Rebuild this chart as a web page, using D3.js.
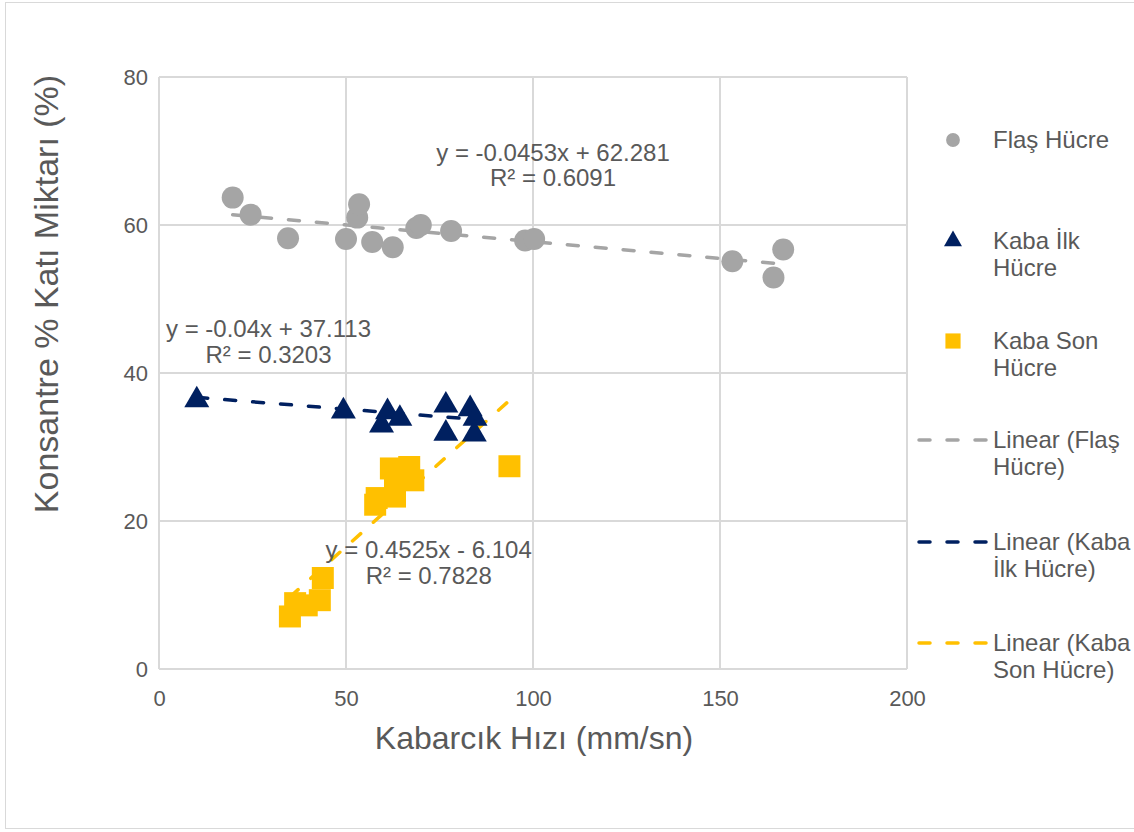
<!DOCTYPE html>
<html>
<head>
<meta charset="utf-8">
<script src="https://cdn.jsdelivr.net/npm/d3@7"></script>
<style>
  body { margin: 0; background: #fff; }
  text { font-family: "Liberation Sans", Arial, sans-serif; fill: #595959; }
</style>
</head>
<body>
<svg class="chart"></svg>
<script>
// Flaş Hücre (gray circles)
var flasX = [19.7, 24.5, 34.5, 50.0, 53.0, 53.5, 57.0, 62.5, 68.8, 70.0, 78.1, 97.9, 100.3, 153.3, 164.3, 166.9];
var flasY = [63.7, 61.4, 58.2, 58.1, 61.0, 62.8, 57.7, 57.0, 59.6, 60.0, 59.2, 57.9, 58.1, 55.1, 52.9, 56.7];
// Kaba İlk Hücre (navy triangles)
var ilkX = [10.1, 49.3, 59.5, 61.1, 64.4, 76.7, 76.7, 83.2, 84.5, 84.3];
var ilkY = [36.6, 35.1, 33.2, 35.0, 34.1, 35.9, 32.1, 35.4, 34.1, 32.0];
// Kaba Son Hücre (yellow squares)
var sonX = [35.0, 36.4, 39.5, 43.0, 43.8, 57.8, 58.2, 63.1, 62.0, 63.1, 66.9, 68.0, 93.7];
var sonY = [7.1, 8.9, 8.6, 9.3, 12.3, 22.2, 23.1, 23.3, 27.1, 25.5, 27.3, 25.5, 27.4];

var seriesNames = ["Flaş Hücre", "Kaba İlk Hücre", "Kaba Son Hücre"];
var trendSlope = [-0.0453, -0.04, 0.4525];
var trendIntercept = [62.281, 37.113, -6.104];
var eqLabels = [
  ["y = -0.0453x + 62.281", "R² = 0.6091"],
  ["y = -0.04x + 37.113", "R² = 0.3203"],
  ["y = 0.4525x - 6.104", "R² = 0.7828"]
];
var xTicks = [0, 50, 100, 150, 200];
var yTicks = [0, 20, 40, 60, 80];

var colors = ["#A5A5A5", "#002060", "#FFC000"];

var W = 1134, H = 832;
var plot = {left: 159, top: 77, right: 907, bottom: 669};

var svg = d3.select(".chart").attr("width", W).attr("height", H);

// outer chart border
svg.append("rect")
  .attr("x", 5.5).attr("y", 2.5).attr("width", 1140).attr("height", 826)
  .attr("fill", "#fff").attr("stroke", "#d9d9d9").attr("stroke-width", 1);

var x = d3.scaleLinear().domain([0, 200]).range([plot.left, plot.right]);
var y = d3.scaleLinear().domain([0, 80]).range([plot.bottom, plot.top]);

// gridlines
var grid = svg.append("g");
grid.selectAll(".gx").data(xTicks).enter().append("line")
  .attr("x1", d => x(d)).attr("x2", d => x(d))
  .attr("y1", plot.top).attr("y2", plot.bottom)
  .attr("stroke", "#d9d9d9").attr("stroke-width", 2);
grid.selectAll(".gy").data(yTicks).enter().append("line")
  .attr("x1", plot.left).attr("x2", plot.right)
  .attr("y1", d => y(d)).attr("y2", d => y(d))
  .attr("stroke", "#d9d9d9").attr("stroke-width", 2);

// axes (labels only, Excel style)
var xAxis = svg.append("g")
  .attr("transform", "translate(0," + plot.bottom + ")")
  .call(d3.axisBottom(x).tickValues(xTicks).tickSize(0).tickPadding(30));
var yAxis = svg.append("g")
  .attr("transform", "translate(" + plot.left + ",0)")
  .call(d3.axisLeft(y).tickValues(yTicks).tickSize(0).tickPadding(11));
[xAxis, yAxis].forEach(function(a) {
  a.select(".domain").remove();
  a.selectAll("text").style("font-size", "22px").attr("fill", "#595959")
    .style("font-family", '"Liberation Sans", Arial, sans-serif');
});
xAxis.selectAll("text").attr("dy", "0").attr("y", 37);
yAxis.selectAll("text").attr("dy", "0.36em");

// trend lines
var allX = [flasX, ilkX, sonX];
var trends = svg.append("g");
allX.forEach(function(xs, i) {
  var x0 = d3.min(xs), x1 = d3.max(xs);
  trends.append("line")
    .attr("x1", x(x0)).attr("y1", y(trendSlope[i] * x0 + trendIntercept[i]))
    .attr("x2", x(x1)).attr("y2", y(trendSlope[i] * x1 + trendIntercept[i]))
    .attr("stroke", colors[i]).attr("stroke-width", 3.5)
    .attr("stroke-dasharray", "11,17").attr("stroke-linecap", "round");
});

// markers
var sym = [d3.symbolCircle, d3.symbolTriangle, d3.symbolSquare];
var sizes = [380, 270, 484];
var allY = [flasY, ilkY, sonY];
allX.forEach(function(xs, i) {
  var pts = xs.map((v, j) => [v, allY[i][j]]);
  svg.append("g").selectAll("path").data(pts).enter().append("path")
    .attr("d", d3.symbol().type(sym[i]).size(sizes[i]))
    .attr("transform", d => "translate(" + x(d[0]) + "," + (y(d[1]) + (i === 1 ? 2 : 0)) + ")")
    .attr("fill", colors[i]);
});

// equation labels
var eqPos = [[553, 160.7], [268.5, 337.3], [428.7, 558.3]];
eqLabels.forEach(function(lines, i) {
  lines.forEach(function(t, k) {
    svg.append("text")
      .attr("x", eqPos[i][0]).attr("y", eqPos[i][1] + k * 25.5)
      .attr("text-anchor", "middle").style("font-size", "24px")
      .text(t);
  });
});

// axis titles
svg.append("text")
  .attr("x", 534).attr("y", 749)
  .attr("text-anchor", "middle").style("font-size", "32px")
  .text("Kabarcık Hızı (mm/sn)");
svg.append("text")
  .attr("transform", "translate(58,294) rotate(-90)")
  .attr("text-anchor", "middle").style("font-size", "34px")
  .text("Konsantre % Katı Miktarı (%)");

// legend
var legendItems = [
  {type: "marker", i: 0, lines: ["Flaş Hücre"], y: 140},
  {type: "marker", i: 1, lines: ["Kaba İlk", "Hücre"], y: 241},
  {type: "marker", i: 2, lines: ["Kaba Son", "Hücre"], y: 341},
  {type: "line", i: 0, lines: ["Linear (Flaş", "Hücre)"], y: 440},
  {type: "line", i: 1, lines: ["Linear (Kaba", "İlk Hücre)"], y: 542},
  {type: "line", i: 2, lines: ["Linear (Kaba", "Son Hücre)"], y: 643}
];
var legendSizes = [150, 140, 230];
var lg = svg.append("g");
legendItems.forEach(function(it) {
  if (it.type === "marker") {
    lg.append("path")
      .attr("d", d3.symbol().type(sym[it.i]).size(legendSizes[it.i]))
      .attr("transform", "translate(953," + it.y + ")")
      .attr("fill", colors[it.i]);
  } else {
    lg.append("line")
      .attr("x1", 919).attr("x2", 986).attr("y1", it.y).attr("y2", it.y)
      .attr("stroke", colors[it.i]).attr("stroke-width", 3.5)
      .attr("stroke-dasharray", "11,17").attr("stroke-linecap", "round");
  }
  it.lines.forEach(function(t, k) {
    lg.append("text")
      .attr("x", 993).attr("y", it.y + 8 + k * 27)
      .style("font-size", "24px")
      .text(t);
  });
});
</script>
</body>
</html>
